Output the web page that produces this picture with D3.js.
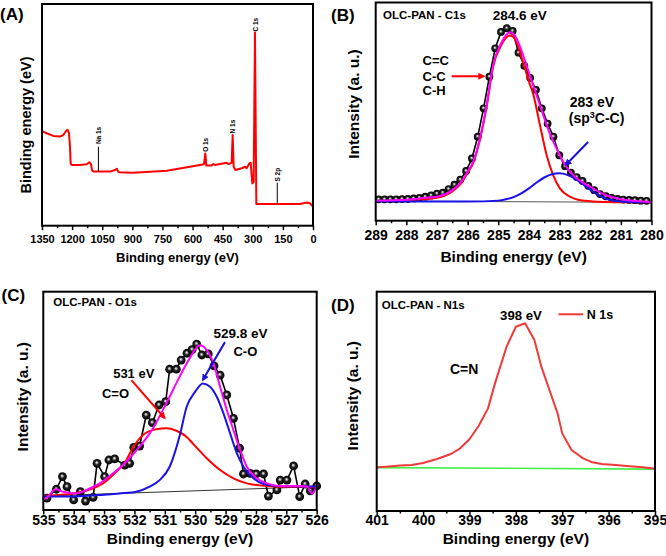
<!DOCTYPE html>
<html><head><meta charset="utf-8">
<script src="https://cdn.jsdelivr.net/npm/d3@7"></script>
<style>
body{margin:0;background:#fff}
svg text{font-family:"Liberation Sans",Arial,sans-serif;font-weight:bold;fill:#000}
</style>
</head><body>
<svg id="c" width="666" height="556"></svg>
<script>
// ---------------- DATA ----------------
// (A) survey spectrum
const surveyEV = [1350,1326.8,1293.5,1260.3,1243.7,1230.4,1222.1,1215.5,1210.5,1207.2,1202.2,1160.7,1127.5,1114.2,1105.9,1100.9,1094.3,1011.3,986.4,978.0,968.1,895.0,728.9,562.9,543.0,536.4,531.4,504.8,496.5,488.2,430.1,420.1,405.2,400.2,395.2,386.9,355.4,338.8,330.5,317.2,310.5,302.2,295.6,289.0,282.3,230.8,64.8,31.6,15.0,3.3,0];
const surveyI = [42.7,41.7,40.5,40.2,40.9,42.7,43.2,41.7,35.6,28.1,27.4,27.4,27.7,28.6,27.8,25.1,24.4,24.4,25.1,25.7,24.1,23.9,24.8,27.4,27.7,32.6,27.1,27.2,27.8,27.4,28.4,27.8,28.4,40.9,26.6,25.1,25.9,26.6,25.9,28.1,28.4,19.1,19.8,87.2,9.8,9.8,9.8,10.5,10.1,9.0,9.0];
const surveyPeakNames = ["Na 1s","O 1s","N 1s","C 1s","S 2p"];
const surveyPeakEV = [1069,533,402,286,178];
const surveyLabelI = [36.8,33.3,41.6,87.6,19.9];
const surveyStickTop = [35.6,null,null,null,19.4];
const surveyStickBottom = [24.4,null,null,null,9.8];
const surveyTicks = [1350,1200,1050,900,750,600,450,300,150,0];
const surveyMinor = [1275,1125,975,825,675,525,375,225,75];

// (B) C1s
const c1sDotEV = [288.90,288.71,288.52,288.33,288.14,287.95,287.76,287.57,287.38,287.19,287.00,286.81,286.62,286.43,286.24,286.05,285.86,285.67,285.48,285.29,285.10,284.91,284.72,284.53,284.34,284.15,283.96,283.77,283.58,283.39,283.20,283.01,282.82,282.63,282.44,282.25,282.06,281.87,281.68,281.49,281.30,281.11,280.92,280.73,280.54,280.35,280.16];
const c1sDotI = [9.8,9.8,9.8,9.8,9.9,10.0,10.2,10.5,11.0,11.6,12.4,12.8,14.5,16.5,18.8,22.8,28.5,38.5,51.5,66.0,79.0,86.5,88.2,87.0,77.0,71.0,65.5,60.0,51.5,44.5,38.5,30.0,25.0,22.0,20.0,18.2,16.0,14.0,12.2,11.2,10.4,10.0,9.7,9.5,9.4,9.2,9.1];
const c1sEnvEV = [289.0,288.0,287.5,287.0,286.5,286.25,286.0,285.82,285.6,285.38,285.17,284.89,284.75,284.62,284.5,284.40,284.19,283.97,283.75,283.53,283.32,283.10,282.88,282.66,282.4,282.0,281.5,281.0,280.5,280.0];
const c1sEnvI = [9.2,9.6,10.3,11.0,14.0,17.1,22.5,27.0,37.7,52.9,71.2,81.8,85.0,86.4,85.6,83.4,75.8,66.6,57.5,48.3,40.0,33.1,27.0,22.5,19.0,15.5,11.8,9.8,9.0,8.6];
const c1sRedEV = [289.0,288.0,287.5,287.0,286.5,286.25,286.0,285.82,285.6,285.38,285.17,284.89,284.75,284.62,284.5,284.40,284.19,283.97,283.86,283.64,283.42,283.21,282.99,282.66,282.4,282.0,281.5,280.0];
const c1sRedI = [9.0,9.3,9.8,10.5,13.4,16.5,21.9,26.4,37.1,52.3,70.5,80.8,83.8,84.9,84.0,81.5,72.5,62.5,58.0,43.8,30.0,20.9,14.8,11.0,9.6,8.9,8.6,8.4];
const c1sBlueEV = [289.0,286.0,285.0,284.75,284.5,284.25,284.0,283.75,283.5,283.25,283.0,282.75,282.5,282.25,282.0,281.75,281.5,281.25,281.0,280.5,280.0];
const c1sBlueI = [8.9,8.8,9.2,9.8,10.8,12.5,14.8,17.5,19.8,21.3,21.7,21.0,19.3,16.8,14.2,11.8,10.2,9.3,8.8,8.5,8.4];
const c1sBaseEV = [289,280];
const c1sBaseI = [9.0,8.4];
const c1sTicks = [289,288,287,286,285,284,283,282,281,280];
const c1sMinor = [288.5,287.5,286.5,285.5,284.5,283.5,282.5,281.5,280.5];

// (C) O1s
const o1sDotEV = [534.88,534.57,534.37,534.22,534.00,533.78,533.61,533.36,533.23,532.98,532.84,532.65,532.32,532.16,532.02,531.83,531.61,531.41,531.19,530.97,530.84,530.62,530.46,530.27,530.10,529.95,529.78,529.57,529.38,529.18,528.96,528.74,528.54,528.41,528.19,527.99,527.75,527.59,527.31,527.20,526.98,526.76,526.56,526.38,526.21,526.00];
const o1sDotI = [5.4,9.5,15.3,10.7,4.6,8.4,4.1,5.8,21.4,15.3,22.9,23.4,20.6,21.4,28.7,29.3,43.5,40.0,48.1,49.6,64.5,64.5,68.7,71.8,73.5,76.0,71.0,71.5,66.0,61.8,52.7,42.0,28.3,16.5,16.8,16.5,16.5,6.4,9.2,13.7,13.7,20.2,6.1,11.9,8.8,11.0];
const o1sEnvEV = [535.0,534.85,534.7,534.6,534.35,534.1,533.9,533.58,533.14,532.70,532.27,531.83,531.39,530.95,530.51,530.18,529.85,529.62,529.40,529.18,528.96,528.74,528.52,528.30,527.97,527.64,527.21,526.55,526.3,526.16,526.0];
const o1sEnvI = [4.9,6.0,8.5,9.5,8.4,7.8,7.6,9.2,12.2,16.8,22.1,29.0,37.4,48.9,61.1,69.5,75.5,73.3,67.2,56.5,45.8,36.6,27.5,19.8,14.5,12.2,11.0,11.0,10.7,7.5,10.7];
const o1sRedEV = [535.0,534.5,534.0,533.5,533.0,532.6,532.3,532.05,531.72,531.28,530.95,530.62,530.29,530.06,529.62,529.18,528.74,528.30,527.64,527.2,526.0];
const o1sRedI = [6.5,6.9,7.6,9.2,12.5,17.5,22.0,28.5,34.4,37.0,37.4,36.3,33.6,30.2,23.7,18.3,14.5,12.2,11.0,10.7,10.7];
const o1sBlueEV = [535.0,534.0,533.0,532.5,531.94,531.5,531.17,530.84,530.51,530.28,530.0,529.75,529.51,529.29,529.07,528.85,528.63,528.41,528.08,527.75,527.31,526.5,526.0];
const o1sBlueI = [6.2,6.2,7.0,7.6,8.4,10.7,13.7,19.8,34.0,47.3,54.2,58.0,56.5,51.9,44.3,35.1,26.0,19.8,14.5,11.9,11.0,10.8,10.7];
const o1sBaseEV = [535,526];
const o1sBaseI = [6.4,10.7];
const o1sTicks = [535,534,533,532,531,530,529,528,527,526];
const o1sMinor = [534.5,533.5,532.5,531.5,530.5,529.5,528.5,527.5,526.5];

// (D) N1s
const n1sEV = [401.0,400.8,400.5,400.25,400.0,399.7,399.4,399.2,399.0,398.8,398.6,398.45,398.2,398.0,397.8,397.6,397.45,397.25,397.1,397.0,396.8,396.55,396.35,396.15,395.85,395.55,395.25,395.0];
const n1sI = [19.9,20.2,20.7,21.0,21.9,23.7,26.0,28.6,32.7,38.9,46.8,58.2,74.9,84.0,85.6,78.0,65.8,53.6,44.5,35.4,27.8,24.0,22.2,21.4,21.0,20.4,19.9,19.3];
const n1sBaseEV = [401,395];
const n1sBaseI = [19.8,19.1];
const n1sTicks = [401,400,399,398,397,396,395];
const n1sMinor = [400.5,399.5,398.5,397.5,396.5,395.5];

// ---------------- DRAWING ----------------
const svg = d3.select("#c");
const defs = svg.append("defs");
const grad = defs.append("radialGradient").attr("id","ball")
  .attr("cx","50%").attr("cy","50%").attr("r","50%").attr("fx","45%").attr("fy","40%");
grad.append("stop").attr("offset","0%").attr("stop-color","#ffffff");
grad.append("stop").attr("offset","18%").attr("stop-color","#b8b8b8");
grad.append("stop").attr("offset","45%").attr("stop-color","#262626");
grad.append("stop").attr("offset","100%").attr("stop-color","#000");

function marker(id,color){
  defs.append("marker").attr("id",id).attr("viewBox","0 0 10 10")
    .attr("refX",8).attr("refY",5).attr("markerWidth",7).attr("markerHeight",7)
    .attr("markerUnits","userSpaceOnUse").attr("orient","auto")
    .append("path").attr("d","M0,0 L10,5 L0,10 z").attr("fill",color);
}
marker("arrRed","#ff0000");
marker("arrBlue","#1a10d8");

function makePanel(o){
  const g = svg.append("g");
  const x = d3.scaleLinear().domain(o.xDomain).range([o.left,o.right]);
  const y = d3.scaleLinear().domain([0,100]).range([o.bottom,o.top]);
  const ga = g.append("g").attr("transform",`translate(0,${o.bottom})`)
    .call(d3.axisBottom(x).tickValues(o.major).tickSize(o.tickMaj).tickSizeOuter(0).tickFormat(d3.format("d")));
  ga.attr("font-family",null).attr("font-size",null);
  ga.select(".domain").remove();
  ga.selectAll("line").attr("stroke","#000").attr("stroke-width",1.5);
  ga.selectAll("text").attr("y",o.labelOff).attr("dy","0.35em").style("font-size",o.tickFont+"px");
  const gm = g.append("g").attr("transform",`translate(0,${o.bottom})`)
    .call(d3.axisBottom(x).tickValues(o.minor).tickSize(o.tickMin).tickSizeOuter(0).tickFormat(""));
  gm.select(".domain").remove();
  gm.selectAll("line").attr("stroke","#000").attr("stroke-width",1.5);
  g.append("text").attr("x",(o.left+o.right)/2).attr("y",o.xTitleY).attr("dy","0.35em")
    .attr("text-anchor","middle").style("font-size",o.xTitleFont+"px").text(o.xTitle);
  g.append("text").attr("transform",`translate(${o.yTitleX},${o.yTitleY}) rotate(-90)`)
    .attr("dy","0.35em").attr("text-anchor","middle").style("font-size",o.yTitleFont+"px").text(o.yTitle);
  g.append("text").attr("x",o.letterX).attr("y",o.letterY).attr("dy","0.35em")
    .style("font-size","17px").text(o.letter);
  const plot = g.append("g");
  const frame = ()=> g.append("rect").attr("x",o.left).attr("y",o.top)
    .attr("width",o.right-o.left).attr("height",o.bottom-o.top)
    .attr("fill","none").attr("stroke","#000").attr("stroke-width",2);
  return {g:plot,x,y,frame};
}

function drawLine(p,evs,vals,color,width,curve){
  const pts = evs.map((e,i)=>[e,vals[i]]);
  p.g.append("path").datum(pts)
    .attr("d",d3.line().x(d=>p.x(d[0])).y(d=>p.y(d[1])).curve(curve||d3.curveLinear))
    .attr("fill","none").attr("stroke",color).attr("stroke-width",width)
    .attr("stroke-linejoin","round");
}
function drawDots(p,evs,vals,r){
  const pts = evs.map((e,i)=>[e,vals[i]]);
  drawLine(p,evs,vals,"#000",1.6);
  p.g.selectAll(null).data(pts).enter().append("circle")
    .attr("cx",d=>p.x(d[0])).attr("cy",d=>p.y(d[1])).attr("r",r)
    .attr("fill","url(#ball)");
}
function label(p,ev,val,txt,size,anchor){
  return p.g.append("text").attr("x",p.x(ev)).attr("y",p.y(val)).attr("dy","0.35em")
    .attr("text-anchor",anchor||"start").style("font-size",size+"px").text(txt);
}
function arrow(p,e1,v1,e2,v2,marker,color){
  p.g.append("line").attr("x1",p.x(e1)).attr("y1",p.y(v1)).attr("x2",p.x(e2)).attr("y2",p.y(v2))
    .attr("stroke",color).attr("stroke-width",2).attr("marker-end",`url(#${marker})`);
}

// ---- Panel A ----
const pA = makePanel({left:42,right:313,top:4,bottom:225.7,xDomain:[1350,0],major:surveyTicks,minor:surveyMinor,
  tickMaj:4.5,tickMin:2.5,labelOff:13.5,tickFont:11,xTitle:"Binding energy (eV)",xTitleY:257,xTitleFont:13,
  yTitle:"Binding energy (eV)",yTitleX:26,yTitleY:125,yTitleFont:14.5,letter:"(A)",letterX:0,letterY:14});
drawLine(pA,surveyEV,surveyI,"#ff0000",2);
surveyPeakNames.forEach((n,i)=>{
  if(surveyStickTop[i]!==null){
    pA.g.append("line").attr("x1",pA.x(surveyPeakEV[i])).attr("x2",pA.x(surveyPeakEV[i]))
      .attr("y1",pA.y(surveyStickTop[i])).attr("y2",pA.y(surveyStickBottom[i]))
      .attr("stroke","#000").attr("stroke-width",1);
  }
  pA.g.append("text").attr("transform",`translate(${pA.x(surveyPeakEV[i])},${pA.y(surveyLabelI[i])}) rotate(-90)`)
    .attr("dy","0.35em").style("font-size","6.5px").text(n);
});
pA.frame();

// ---- Panel B ----
const pB = makePanel({left:375.7,right:651.5,top:2.5,bottom:220.7,xDomain:[289,280],major:c1sTicks,minor:c1sMinor,
  tickMaj:4.5,tickMin:2.5,labelOff:14,tickFont:14,xTitle:"Binding energy (eV)",xTitleY:256.5,xTitleFont:15.5,
  yTitle:"Intensity (a. u.)",yTitleX:353.5,yTitleY:104,yTitleFont:15.5,letter:"(B)",letterX:331,letterY:15});
drawLine(pB,c1sBaseEV,c1sBaseI,"#555",1);
drawDots(pB,c1sDotEV,c1sDotI,3.9);
drawLine(pB,c1sRedEV,c1sRedI,"#ff0000",2,d3.curveMonotoneX);
drawLine(pB,c1sBlueEV,c1sBlueI,"#1a10e8",2,d3.curveMonotoneX);
drawLine(pB,c1sEnvEV,c1sEnvI,"#ff00ff",2,d3.curveMonotoneX);
label(pB,288.76,94.1,"OLC-PAN - C1s",11.5);
label(pB,285.18,94.1,"284.6 eV",13.5);
label(pB,287.47,73.5,"C=C",13);
label(pB,287.47,66.2,"C-C",13);
label(pB,287.47,59.8,"C-H",13);
label(pB,282.67,54.2,"283 eV",14);
const tsp = pB.g.append("text").attr("x",pB.x(282.70)).attr("y",pB.y(47.0)).attr("dy","0.35em").style("font-size","14px");
tsp.append("tspan").text("(sp");
tsp.append("tspan").attr("dy","-5").style("font-size","9px").text("3");
tsp.append("tspan").attr("dy","5").text("C-C)");
arrow(pB,286.52,66.2,285.47,66.2,"arrRed","#ff0000");
arrow(pB,282.07,36.1,282.80,25.5,"arrBlue","#1a10d8");
pB.frame();

// ---- Panel C ----
const pC = makePanel({left:43.3,right:316.7,top:291.7,bottom:510,xDomain:[535,526],major:o1sTicks,minor:o1sMinor,
  tickMaj:4.5,tickMin:2.5,labelOff:10,tickFont:14,xTitle:"Binding energy (eV)",xTitleY:538.3,xTitleFont:15.5,
  yTitle:"Intensity (a. u.)",yTitleX:22.7,yTitleY:396.7,yTitleFont:15.5,letter:"(C)",letterX:1.5,letterY:295});
drawLine(pC,o1sBaseEV,o1sBaseI,"#333",1);
drawDots(pC,o1sDotEV,o1sDotI,4.4);
drawLine(pC,o1sRedEV,o1sRedI,"#ff0000",2,d3.curveMonotoneX);
drawLine(pC,o1sBlueEV,o1sBlueI,"#1a10e8",2,d3.curveMonotoneX);
drawLine(pC,o1sEnvEV,o1sEnvI,"#ff00ff",2,d3.curveMonotoneX);
label(pC,534.67,95.1,"OLC-PAN - O1s",11.5);
label(pC,532.70,62.7,"531 eV",13);
label(pC,533.07,53.5,"C=O",13);
arrow(pC,532.10,59.5,531.0,42.0,"arrRed","#ff0000");
label(pC,529.40,81.1,"529.8 eV",13.5);
label(pC,528.74,72.7,"C-O",13);
arrow(pC,529.02,76.9,529.75,59.5,"arrBlue","#1a10d8");
pC.frame();

// ---- Panel D ----
const pD = makePanel({left:376.7,right:655,top:291.7,bottom:511,xDomain:[401,395],major:n1sTicks,minor:n1sMinor,
  tickMaj:4.5,tickMin:2.5,labelOff:9.5,tickFont:14,xTitle:"Binding energy (eV)",xTitleY:538.3,xTitleFont:15.5,
  yTitle:"Intensity (a. u.)",yTitleX:352.7,yTitleY:395.7,yTitleFont:15.5,letter:"(D)",letterX:331,letterY:305});
drawLine(pD,n1sBaseEV,n1sBaseI,"#44ee44",1.6);
drawLine(pD,n1sEV,n1sI,"#f03a3a",2);
label(pD,400.89,93.9,"OLC-PAN - N1s",11.5);
label(pD,398.34,89.4,"398 eV",13.2);
pD.g.append("line").attr("x1",pD.x(397.08)).attr("x2",pD.x(396.55)).attr("y1",pD.y(89.7)).attr("y2",pD.y(89.7))
  .attr("stroke","#f03a3a").attr("stroke-width",2);
label(pD,396.47,89.4,"N 1s",12.5);
label(pD,399.42,64.6,"C=N",14);
pD.frame();
</script>
</body></html>
